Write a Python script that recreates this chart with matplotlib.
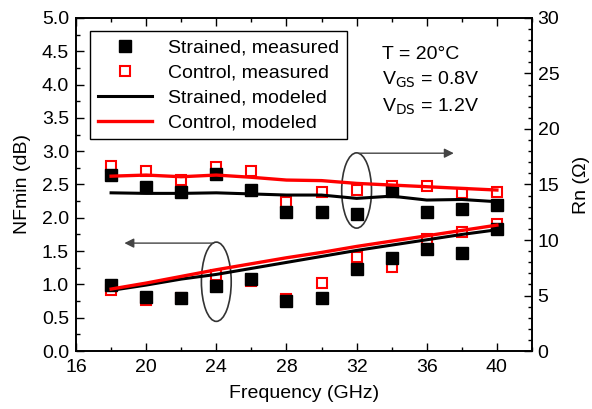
import matplotlib.pyplot as plt
from matplotlib.patches import Ellipse
from matplotlib.ticker import MultipleLocator, FormatStrFormatter

plt.rcParams['font.family'] = ['Liberation Sans', 'DejaVu Sans']
plt.rcParams['font.size'] = 14

freq = [18, 20, 22, 24, 26, 28, 30, 32, 34, 36, 38, 40]

# NFmin (dB), left axis
nf_strained_meas = [0.99, 0.81, 0.79, 0.97, 1.08, 0.75, 0.79, 1.23, 1.40, 1.53, 1.47, 1.83]
nf_control_meas = [0.91, 0.76, 0.80, 1.14, 1.05, 0.78, 1.02, 1.41, 1.26, 1.68, 1.78, 1.91]
nf_strained_model = [0.91, 0.99, 1.08, 1.15, 1.24, 1.33, 1.42, 1.51, 1.59, 1.67, 1.75, 1.82]
nf_control_model = [0.93, 1.02, 1.12, 1.22, 1.31, 1.40, 1.48, 1.57, 1.65, 1.73, 1.81, 1.89]

# Rn (ohm), right axis
rn_strained_meas = [15.9, 14.75, 14.35, 15.95, 14.5, 12.5, 12.5, 12.3, 14.45, 12.55, 12.8, 13.15]
rn_control_meas = [16.65, 16.2, 15.4, 16.6, 16.25, 13.4, 14.35, 14.5, 14.85, 14.9, 14.2, 14.35]
rn_strained_model = [14.25, 14.2, 14.2, 14.25, 14.15, 14.05, 14.05, 13.75, 13.95, 13.6, 13.65, 13.45]
rn_control_model = [15.75, 15.85, 15.7, 15.85, 15.65, 15.4, 15.35, 15.1, 14.95, 14.8, 14.65, 14.5]

fig = plt.figure(figsize=(5.92, 4.09), dpi=100)
ax1 = fig.add_axes([0.1284, 0.1418, 0.7702, 0.8142])
ax2 = ax1.twinx()

sq_fill = dict(marker='s', ms=9, color='black', ls='none')
sq_open = dict(marker='s', ms=7.5, mfc='white', mec='red', mew=1.5, ls='none')

ax1.plot(freq, nf_control_meas, **sq_open)
ax1.plot(freq, nf_strained_meas, **sq_fill)
ax1.plot(freq, nf_strained_model, color='black', lw=2.2)
ax1.plot(freq, nf_control_model, color='red', lw=2.4)

h1, = ax2.plot(freq, rn_control_meas, **sq_open)
h0, = ax2.plot(freq, rn_strained_meas, **sq_fill)
h2, = ax2.plot(freq, rn_strained_model, color='black', lw=2.2)
h3, = ax2.plot(freq, rn_control_model, color='red', lw=2.4)

ax1.set_xlim(16, 42)
ax1.set_ylim(0, 5)
ax2.set_ylim(0, 30)
ax1.xaxis.set_major_locator(MultipleLocator(4))
ax1.xaxis.set_minor_locator(MultipleLocator(2))
ax1.yaxis.set_major_locator(MultipleLocator(0.5))
ax1.yaxis.set_minor_locator(MultipleLocator(0.25))
ax1.yaxis.set_major_formatter(FormatStrFormatter('%.1f'))
ax2.yaxis.set_major_locator(MultipleLocator(5))
ax2.yaxis.set_minor_locator(MultipleLocator(1))

ax1.tick_params(axis='x', which='both', direction='in', top=True, pad=6)
ax1.tick_params(axis='y', which='both', direction='in', right=False, pad=5)
ax2.tick_params(axis='y', which='both', direction='in', pad=4)
for a in (ax1, ax2):
    a.tick_params(which='major', length=6, width=1)
    a.tick_params(which='minor', length=3, width=1)
    for s in a.spines.values():
        s.set_linewidth(1.2)

ax1.set_xlabel('Frequency (GHz)', labelpad=6)
ax1.set_ylabel('NFmin (dB)', labelpad=8)
ax2.set_ylabel('Rn (Ω)', labelpad=10)

# ellipses with arrows marking which axis each group uses
ax1.add_patch(Ellipse((32, 2.41), 1.7, 1.13, fill=False, ec='#333333', lw=1.2))
ax1.annotate('', xy=(37.7, 2.97), xytext=(32, 2.97),
             arrowprops=dict(arrowstyle='-|>', color='#444444', lw=1))
ax1.add_patch(Ellipse((24, 1.04), 1.7, 1.19, fill=False, ec='#333333', lw=1.2))
ax1.annotate('', xy=(18.6, 1.62), xytext=(24, 1.62),
             arrowprops=dict(arrowstyle='-|>', color='#444444', lw=1))

leg = ax2.legend([h0, h1, h2, h3],
                 ['Strained, measured', 'Control, measured',
                  'Strained, modeled', 'Control, modeled'],
                 loc='upper left', bbox_to_anchor=(0.031, 0.961),
                 fancybox=False, edgecolor='black', framealpha=1,
                 borderaxespad=0, handlelength=2.8, labelspacing=0.38,
                 borderpad=0.4, handletextpad=0.8)
leg.get_frame().set_linewidth(1)

ax1.text(0.671, 0.889, 'T = 20°C', transform=ax1.transAxes, va='center')
ax1.text(0.671, 0.814, r'V$_{\mathrm{GS}}$ = 0.8V', transform=ax1.transAxes, va='center')
ax1.text(0.671, 0.733, r'V$_{\mathrm{DS}}$ = 1.2V', transform=ax1.transAxes, va='center')

fig.savefig('out.png', dpi=100)
